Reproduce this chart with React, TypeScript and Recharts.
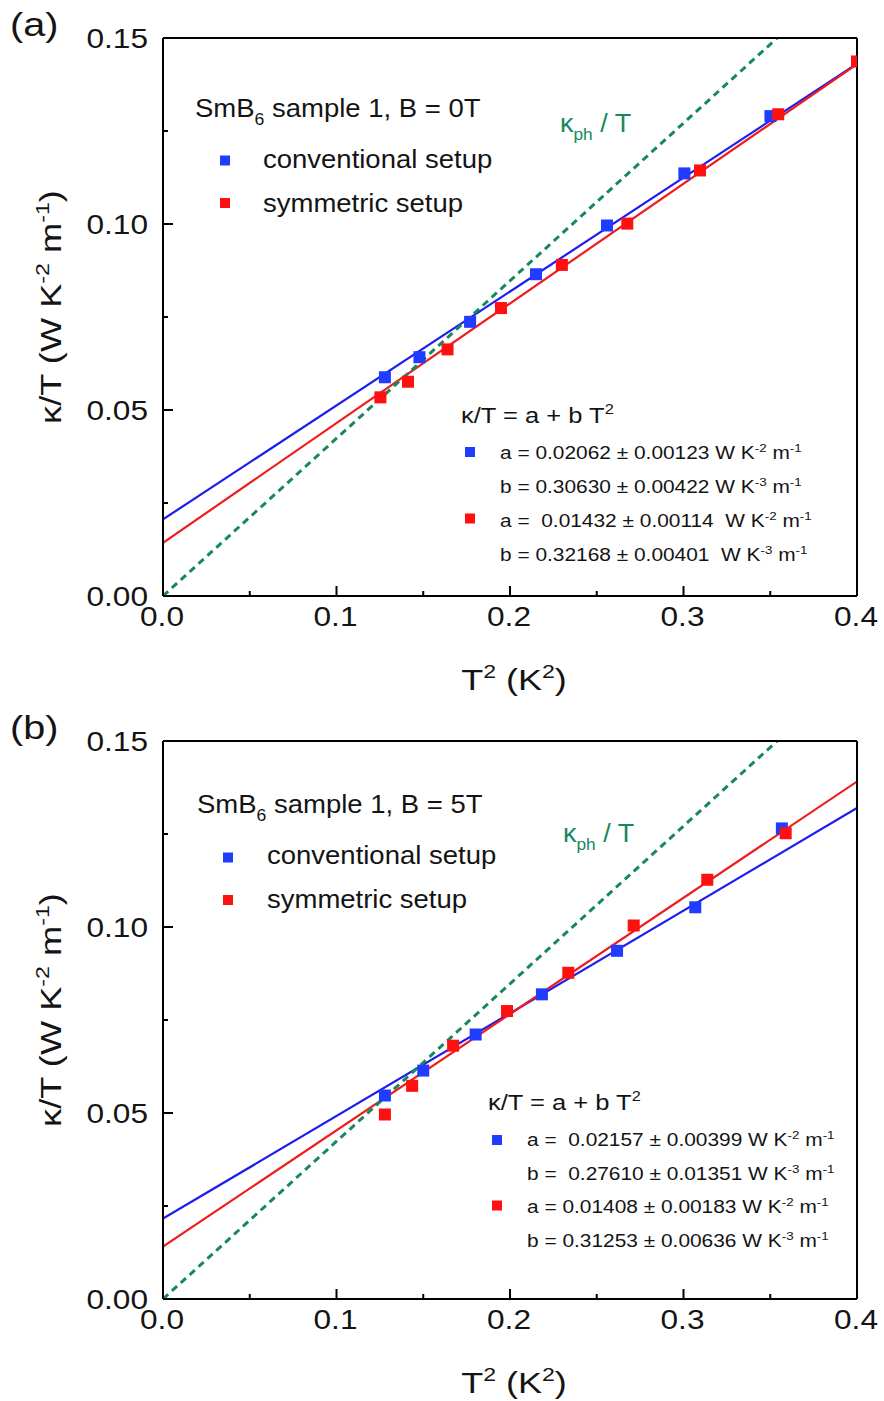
import React from "react";
import { ComposedChart, XAxis, YAxis, Line, Scatter } from "recharts";

const FONT = '"Liberation Sans", Arial, Helvetica, sans-serif';
const BLUE = "#1f3cff";
const BLUE_LINE = "#1c1cf0";
const RED = "#ff1010";
const RED_LINE = "#f01c1c";
const GREEN = "#16895c";
const INK = "#141414";

// axis ticks (minor ticks carry an empty label)
const xTicks = [0, 0.05, 0.1, 0.15, 0.2, 0.25, 0.3, 0.35, 0.4];
const xTickLabels = ["0.0", "", "0.1", "", "0.2", "", "0.3", "", "0.4"];
const yTicks = [0, 0.025, 0.05, 0.075, 0.1, 0.125, 0.15];
const yTickLabels = ["0.00", "", "0.05", "", "0.10", "", "0.15"];

// panel (a): B = 0T
const convAx = [0.1279, 0.1478, 0.177, 0.215, 0.2559, 0.3005, 0.3501];
const convAy = [0.0588, 0.0642, 0.0737, 0.0865, 0.0996, 0.1136, 0.129];
const symAx = [0.1253, 0.1412, 0.164, 0.1948, 0.2299, 0.2676, 0.3095, 0.3546, 0.4];
const symAy = [0.0534, 0.0576, 0.0663, 0.0774, 0.089, 0.1001, 0.1144, 0.1295, 0.1437];

// panel (b): B = 5T
const convBx = [0.1279, 0.15, 0.1802, 0.2184, 0.2617, 0.3068, 0.3567];
const convBy = [0.0547, 0.0614, 0.0711, 0.0819, 0.0936, 0.1053, 0.1265];
const symBx = [0.1279, 0.1436, 0.1672, 0.1983, 0.2336, 0.2713, 0.3137, 0.3589];
const symBy = [0.0496, 0.0573, 0.0681, 0.0774, 0.0877, 0.1004, 0.1127, 0.1252];

// linear fits, end points at T^2 = 0 and 0.4
const fitX = [0, 0.4];
const convFitAy = [0.0206, 0.1431];
const symFitAy = [0.0143, 0.143];
const convFitBy = [0.0216, 0.132];
const symFitBy = [0.0141, 0.1391];

// phonon contribution kph/T
const phX = [0, 0.354];
const phY = [0, 0.15];

const toPoints = (xs: number[], ys: number[]) => xs.map((x, i) => ({ x, y: ys[i] }));

const findIdx = (ticks: number[], v: number) => ticks.findIndex((t) => Math.abs(t - v) < 1e-9);

// the figure's lettering is a little wider than Arial, so stretch it horizontally
const TickText = ({ x, y, anchor, children }: { x: number; y: number; anchor: "middle" | "end"; children: string }) => (
  <g transform={`translate(${x} ${y}) scale(1.13 1)`}>
    <text x={0} y={0} textAnchor={anchor} fontSize={28} fontFamily={FONT} fill={INK}>
      {children}
    </text>
  </g>
);

const BottomTick = (p: any) => {
  const label = xTickLabels[findIdx(xTicks, p.payload.value)];
  return (
    <g>
      <line x1={p.x} y1={p.y} x2={p.x} y2={p.y - (label ? 10 : 5)} stroke="#000" strokeWidth={2} />
      {label ? <TickText x={p.x - 1} y={p.y + 30} anchor="middle">{label}</TickText> : null}
    </g>
  );
};

const TopTick = (p: any) => {
  const label = xTickLabels[findIdx(xTicks, p.payload.value)];
  return <line x1={p.x} y1={p.y} x2={p.x} y2={p.y + (label ? 10 : 5)} stroke="#000" strokeWidth={2} />;
};

const LeftTick = (p: any) => {
  const label = yTickLabels[findIdx(yTicks, p.payload.value)];
  return (
    <g>
      <line x1={p.x} y1={p.y} x2={p.x + (label ? 10 : 5)} y2={p.y} stroke="#000" strokeWidth={2} />
      {label ? <TickText x={p.x - 15} y={p.y + 10} anchor="end">{label}</TickText> : null}
    </g>
  );
};

const RightTick = (p: any) => {
  const label = yTickLabels[findIdx(yTicks, p.payload.value)];
  return <line x1={p.x} y1={p.y} x2={p.x - (label ? 10 : 5)} y2={p.y} stroke="#000" strokeWidth={2} />;
};

const squareShape = (color: string) => (p: any) =>
  <rect x={p.cx - 6} y={p.cy - 6} width={12} height={12} fill={color} />;

const axisLine = { stroke: "#000", strokeWidth: 2 };

interface PanelProps {
  conv: { x: number; y: number }[];
  sym: { x: number; y: number }[];
  convFit: { x: number; y: number }[];
  symFit: { x: number; y: number }[];
}

const Panel: React.FC<PanelProps> = ({ conv, sym, convFit, symFit }) => (
  <ComposedChart width={884} height={700} margin={{ top: 28, right: 17, left: 103, bottom: 74 }}>
    <XAxis
      dataKey="x"
      type="number"
      domain={[0, 0.4]}
      ticks={xTicks}
      interval={0}
      allowDataOverflow
      height={30}
      tickSize={0}
      tickMargin={0}
      tickLine={false}
      axisLine={axisLine}
      tick={BottomTick}
    />
    <XAxis
      xAxisId="top"
      orientation="top"
      dataKey="x"
      type="number"
      domain={[0, 0.4]}
      ticks={xTicks}
      interval={0}
      height={10}
      tickSize={0}
      tickMargin={0}
      tickLine={false}
      axisLine={axisLine}
      tick={TopTick}
    />
    <YAxis
      dataKey="y"
      type="number"
      domain={[0, 0.15]}
      ticks={yTicks}
      interval={0}
      allowDataOverflow
      width={60}
      tickSize={0}
      tickMargin={0}
      tickLine={false}
      axisLine={axisLine}
      tick={LeftTick}
    />
    <YAxis
      yAxisId="right"
      orientation="right"
      dataKey="y"
      type="number"
      domain={[0, 0.15]}
      ticks={yTicks}
      interval={0}
      width={10}
      tickSize={0}
      tickMargin={0}
      tickLine={false}
      axisLine={axisLine}
      tick={RightTick}
    />
    <Line data={convFit} dataKey="y" type="linear" stroke={BLUE_LINE} strokeWidth={2.2} dot={false} isAnimationActive={false} />
    <Line data={symFit} dataKey="y" type="linear" stroke={RED_LINE} strokeWidth={2.2} dot={false} isAnimationActive={false} />
    <Line
      data={toPoints(phX, phY)}
      dataKey="y"
      type="linear"
      stroke={GREEN}
      strokeWidth={3}
      strokeDasharray="7 5"
      dot={false}
      isAnimationActive={false}
    />
    <Scatter data={conv} dataKey="y" shape={squareShape(BLUE)} isAnimationActive={false} />
    <Scatter data={sym} dataKey="y" shape={squareShape(RED)} isAnimationActive={false} />
  </ComposedChart>
);

type Seg = [string, "n" | "sup" | "sub"];

const Rich: React.FC<{
  x: number;
  y: number;
  size: number;
  segs: Seg[];
  fill?: string;
  sx?: number;
  anchor?: "start" | "middle" | "end";
  rotate?: boolean;
}> = ({ x, y, size, segs, fill = INK, sx = 1.1, anchor = "start", rotate = false }) => {
  let shift = 0;
  return (
    <g transform={`translate(${x} ${y})${rotate ? " rotate(-90)" : ""} scale(${sx} 1)`}>
      <text x={0} y={0} fontSize={size} fontFamily={FONT} fill={fill} textAnchor={anchor} style={{ whiteSpace: "pre" }}>
        {segs.map(([t, kind], i) => {
          const target = kind === "sup" ? -0.4 * size : kind === "sub" ? 0.3 * size : 0;
          const dy = target - shift;
          shift = target;
          return (
            <tspan key={i} dy={dy} fontSize={kind === "n" ? size : size * 0.64}>
              {t}
            </tspan>
          );
        })}
      </text>
    </g>
  );
};

const unitA: Seg[] = [[" W K", "n"], ["-2", "sup"], [" m", "n"], ["-1", "sup"]];
const unitB: Seg[] = [[" W K", "n"], ["-3", "sup"], [" m", "n"], ["-1", "sup"]];
const unitA2: Seg[] = [["  W K", "n"], ["-2", "sup"], [" m", "n"], ["-1", "sup"]];
const unitB2: Seg[] = [["  W K", "n"], ["-3", "sup"], [" m", "n"], ["-1", "sup"]];

const yTitle: Seg[] = [["κ/T (W K", "n"], ["-2", "sup"], [" m", "n"], ["-1", "sup"], [")", "n"]];
const xTitle: Seg[] = [["T", "n"], ["2", "sup"], [" (K", "n"], ["2", "sup"], [")", "n"]];
const formula: Seg[] = [["κ/T = a + b T", "n"], ["2", "sup"]];
const phLabel: Seg[] = [["κ", "n"], ["ph", "sub"], [" / T", "n"]];

const Marker = ({ cx, cy, color, s = 10 }: { cx: number; cy: number; color: string; s?: number }) => (
  <rect x={cx - s / 2} y={cy - s / 2} width={s} height={s} fill={color} />
);

const Overlay = () => (
  <svg width={884} height={1401} style={{ position: "absolute", left: 0, top: 0, pointerEvents: "none" }}>
    {/* panel (a) */}
    <Rich x={10} y={36} size={33} sx={1.2} segs={[["(a)", "n"]]} />
    <Rich x={61} y={307} size={29} sx={1.25} segs={yTitle} anchor="middle" rotate />
    <Rich x={514} y={690} size={30} sx={1.2} segs={xTitle} anchor="middle" />
    <Rich x={195} y={117} size={25} segs={[["SmB", "n"], ["6", "sub"], [" sample 1, B = 0T", "n"]]} />
    <Marker cx={225} cy={160.5} color={BLUE} />
    <Rich x={263} y={168} size={25} segs={[["conventional setup", "n"]]} />
    <Marker cx={225} cy={203} color={RED} />
    <Rich x={263} y={212} size={25} segs={[["symmetric setup", "n"]]} />
    <Rich x={560} y={132} size={25} sx={1.08} fill={GREEN} segs={phLabel} />
    <Rich x={461} y={423} size={22} sx={1.16} segs={formula} />
    <Marker cx={470} cy={452} color={BLUE} />
    <Rich x={500} y={459} size={18.5} sx={1.13} segs={[["a = 0.02062 ± 0.00123", "n"], ...unitA]} />
    <Rich x={500} y={493} size={18.5} sx={1.13} segs={[["b = 0.30630 ± 0.00422", "n"], ...unitB]} />
    <Marker cx={470} cy={518.5} color={RED} />
    <Rich x={500} y={527} size={18.5} sx={1.13} segs={[["a =  0.01432 ± 0.00114", "n"], ...unitA2]} />
    <Rich x={500} y={561} size={18.5} sx={1.13} segs={[["b = 0.32168 ± 0.00401", "n"], ...unitB2]} />

    {/* panel (b) */}
    <Rich x={10} y={739} size={33} sx={1.2} segs={[["(b)", "n"]]} />
    <Rich x={61} y={1010} size={29} sx={1.25} segs={yTitle} anchor="middle" rotate />
    <Rich x={514} y={1393} size={30} sx={1.2} segs={xTitle} anchor="middle" />
    <Rich x={197} y={813} size={25} segs={[["SmB", "n"], ["6", "sub"], [" sample 1, B = 5T", "n"]]} />
    <Marker cx={228} cy={857.5} color={BLUE} />
    <Rich x={267} y={864} size={25} segs={[["conventional setup", "n"]]} />
    <Marker cx={228} cy={900} color={RED} />
    <Rich x={267} y={908} size={25} segs={[["symmetric setup", "n"]]} />
    <Rich x={563} y={842} size={25} sx={1.08} fill={GREEN} segs={phLabel} />
    <Rich x={488} y={1110} size={22} sx={1.16} segs={formula} />
    <Marker cx={497} cy={1140} color={BLUE} />
    <Rich x={527} y={1146} size={18.5} sx={1.13} segs={[["a =  0.02157 ± 0.00399", "n"], ...unitA]} />
    <Rich x={527} y={1180} size={18.5} sx={1.13} segs={[["b =  0.27610 ± 0.01351", "n"], ...unitB]} />
    <Marker cx={497} cy={1205.5} color={RED} />
    <Rich x={527} y={1213} size={18.5} sx={1.13} segs={[["a = 0.01408 ± 0.00183", "n"], ...unitA]} />
    <Rich x={527} y={1247} size={18.5} sx={1.13} segs={[["b = 0.31253 ± 0.00636", "n"], ...unitB]} />
  </svg>
);

export default function App() {
  return (
    <div style={{ position: "absolute", left: 0, top: 0, width: 884, height: 1401, background: "#fff" }}>
      <div style={{ position: "absolute", left: 0, top: 0 }}>
        <Panel
          conv={toPoints(convAx, convAy)}
          sym={toPoints(symAx, symAy)}
          convFit={toPoints(fitX, convFitAy)}
          symFit={toPoints(fitX, symFitAy)}
        />
      </div>
      <div style={{ position: "absolute", left: 0, top: 703 }}>
        <Panel
          conv={toPoints(convBx, convBy)}
          sym={toPoints(symBx, symBy)}
          convFit={toPoints(fitX, convFitBy)}
          symFit={toPoints(fitX, symFitBy)}
        />
      </div>
      <Overlay />
    </div>
  );
}
